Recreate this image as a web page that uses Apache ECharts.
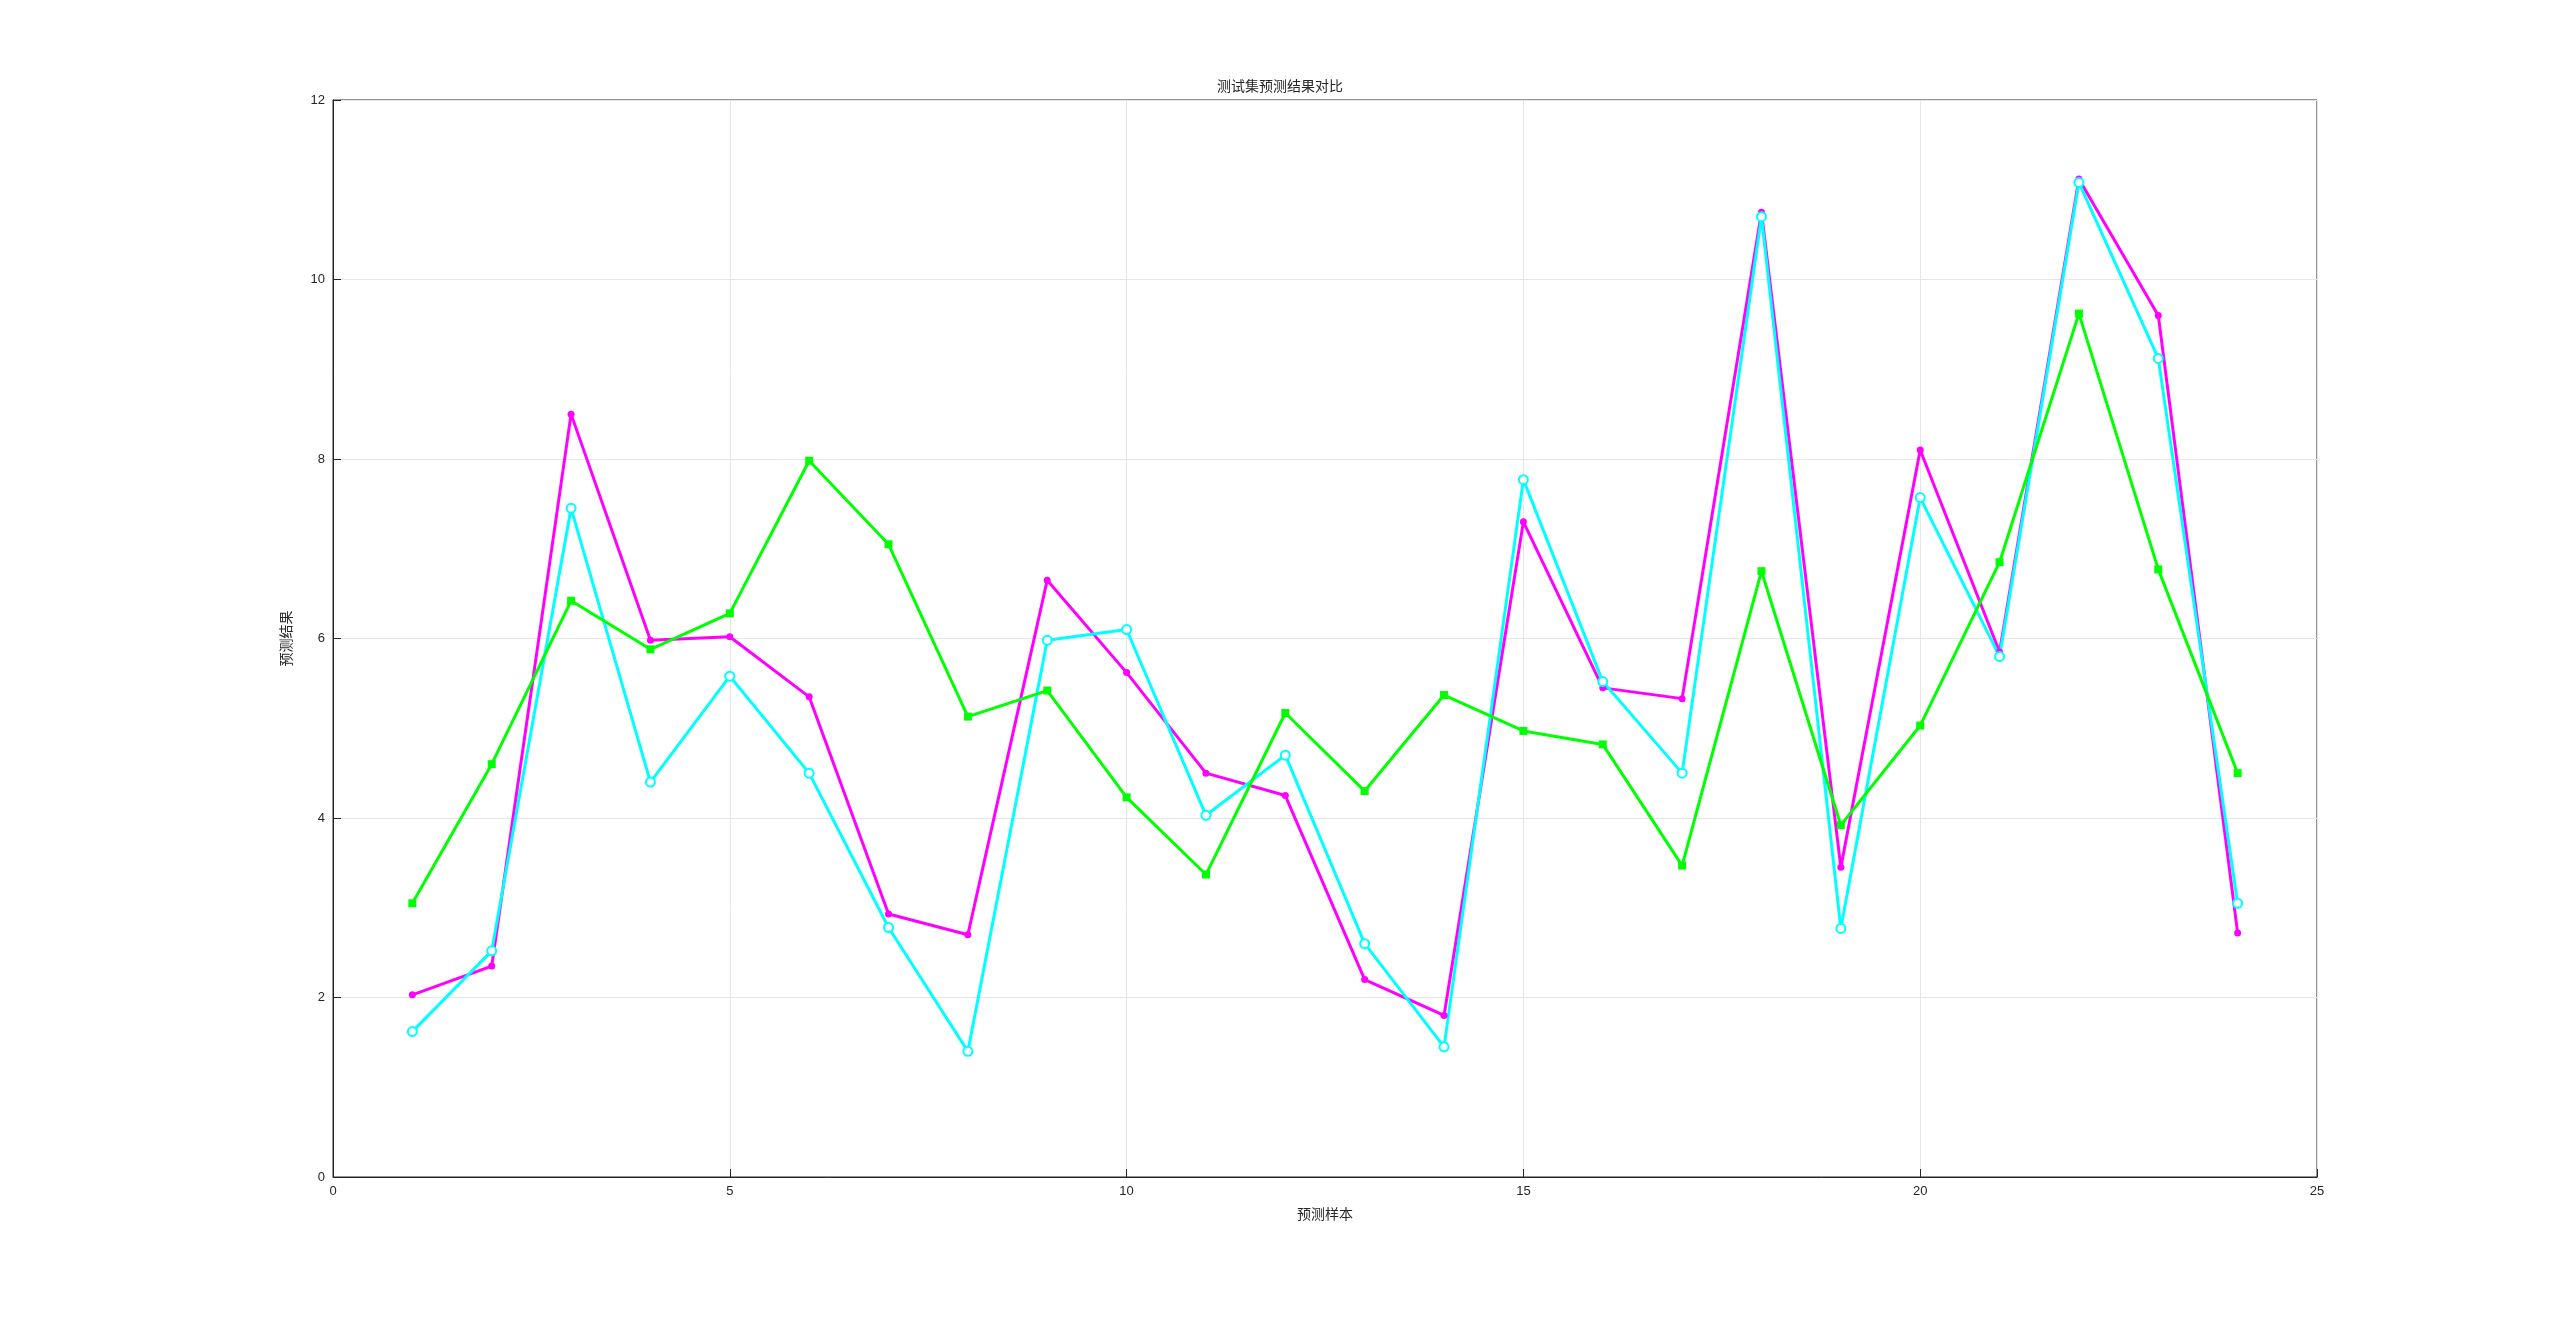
<!DOCTYPE html><html><head><meta charset="utf-8"><script src="https://cdn.jsdelivr.net/npm/echarts@6/dist/echarts.min.js"></script></head><body style="margin:0;background:#fff"><div id="c" style="width:2560px;height:1322px"></div><script>
const samples=[1,2,3,4,5,6,7,8,9,10,11,12,13,14,15,16,17,18,19,20,21,22,23,24];
const seriesA=[2.03,2.35,8.5,5.98,6.02,5.35,2.93,2.7,6.65,5.62,4.5,4.25,2.2,1.8,7.3,5.45,5.33,10.75,3.45,8.1,5.85,11.12,9.6,2.72];
const seriesB=[1.62,2.52,7.45,4.4,5.58,4.5,2.78,1.4,5.98,6.1,4.03,4.7,2.6,1.45,7.77,5.52,4.5,10.7,2.77,7.57,5.8,11.08,9.12,3.05];
const seriesC=[3.05,4.6,6.42,5.88,6.28,7.98,7.05,5.13,5.42,4.23,3.37,5.17,4.3,5.37,4.97,4.82,3.47,6.75,3.92,5.03,6.85,9.62,6.77,4.5];
const pts=a=>a.map((v,i)=>[samples[i],v]);
const font='"Noto Sans CJK SC", sans-serif';
const ax=(extra)=>Object.assign({axisLine:{show:true,lineStyle:{color:'#262626'}},axisTick:{inside:true,length:8,lineStyle:{color:'#262626'}},axisLabel:{color:'#262626',fontSize:13,fontFamily:'Liberation Sans'},splitLine:{show:true,lineStyle:{color:'#e6e6e6'}}},extra);
const chart=echarts.init(document.getElementById('c'));
chart.setOption({animation:false,
title:{text:'测试集预测结果对比',left:'center',top:74,textStyle:{fontSize:14,fontWeight:'normal',color:'#262626',fontFamily:font}},
grid:{left:333,right:243,top:100,bottom:145,show:true,borderColor:'#262626',borderWidth:1},
xAxis:ax({type:'value',min:0,max:25,interval:5,name:'预测样本',nameLocation:'middle',nameGap:30,nameTextStyle:{fontSize:14,color:'#262626',fontFamily:font}}),
yAxis:ax({type:'value',min:0,max:12,interval:2,name:'预测结果',nameLocation:'middle',nameGap:40,nameTextStyle:{fontSize:14,color:'#262626',fontFamily:font}}),
series:[
{type:'line',data:pts(seriesA),symbol:'circle',symbolSize:7,lineStyle:{color:'#ff00ff',width:3},itemStyle:{color:'#ff00ff'}},
{type:'line',data:pts(seriesB),symbol:'emptyCircle',symbolSize:9,lineStyle:{color:'#00ffff',width:3},itemStyle:{color:'#00ffff',borderWidth:2}},
{type:'line',data:pts(seriesC),symbol:'rect',symbolSize:8,lineStyle:{color:'#00ff00',width:3},itemStyle:{color:'#00ff00'}}
]});
</script></body></html>
